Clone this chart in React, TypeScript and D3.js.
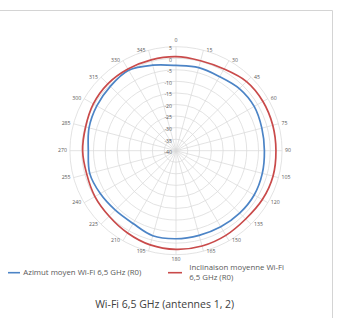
import React from 'react'
import * as d3 from 'd3'

const angles = [0, 15, 30, 45, 60, 75, 90, 105, 120, 135, 150, 165, 180, 195, 210, 225, 240, 255, 270, 285, 300, 315, 330, 345]
const azimut = [-3.1, -2.8, -3.0, -2.0, -1.7, -2.3, -2.5, -2.1, -1.7, -1.8, -2.0, -2.1, -1.9, -1.9, -3.6, -3.6, -2.9, -2.1, -2.8, -1.8, -1.2, -0.6, 0.2, -1.7]
const inclinaison = [0.7, 0.3, 0.8, 2.3, 2.6, 2.5, 2.4, 2.6, 2.3, 1.8, 2.3, 2.7, 2.7, 2.2, 1.1, 0.1, -0.3, -0.8, -0.4, -0.3, 0.5, 0.9, 0.8, 0.7]
const ringTicks = [5, 0, -5, -10, -15, -20, -25, -30, -35, -40]
const seriesNames = ['Azimut moyen Wi-Fi 6,5 GHz (R0)', 'Inclinaison moyenne Wi-Fi|6,5 GHz (R0)']
const seriesColours = ['#4c84c6', '#c94a4a']
const title = 'Wi-Fi 6,5 GHz (antennes 1, 2)'

const W = 339
const H = 318
const cx = 176
const cy = 150.7
const R = 104
const kx = 1.02 // picture is a touch wider than tall

export default function App() {
  const rScale = d3.scaleLinear().domain([-40, 5]).range([0, R])
  const aScale = d3.scaleLinear().domain([0, 360]).range([0, 2 * Math.PI])

  const px = (deg: number, r: number) => cx + Math.sin(aScale(deg)) * r * kx
  const py = (deg: number, r: number) => cy - Math.cos(aScale(deg)) * r

  const line = d3.line<number>()
    .x((d, i) => px(angles[i], rScale(d)))
    .y((d, i) => py(angles[i], rScale(d)))
    .curve(d3.curveCatmullRomClosed.alpha(0.5))

  const series = [azimut, inclinaison]
  const grid = '#d9d9d9'
  const font = "'Open Sans', 'DejaVu Sans', sans-serif"

  return (
    <svg width={W} height={H} style={{ position: 'absolute', left: 0, top: 0, background: '#fff' }} fontFamily={font}>
      <line x1={0} y1={10.5} x2={332.5} y2={10.5} stroke="#d4d4d4" />
      <line x1={332.5} y1={10.5} x2={332.5} y2={H} stroke="#d4d4d4" />

      {/* rings */}
      {ringTicks.filter(t => t > -40).map(t => (
        <ellipse key={t} cx={cx} cy={cy} rx={rScale(t) * kx} ry={rScale(t)} fill="none" stroke={grid} strokeWidth={0.75} />
      ))}
      {/* spokes */}
      {angles.map(a => (
        <line key={a} x1={cx} y1={cy} x2={px(a, R)} y2={py(a, R)} stroke={grid} strokeWidth={0.75} />
      ))}

      {/* ring labels */}
      {ringTicks.map(t => (
        <text key={t} x={cx - 4} y={cy - rScale(t) + 2} fontSize={5.2} fill="#595959" textAnchor="end" dominantBaseline="middle">{t}</text>
      ))}

      {/* angle labels */}
      {angles.map(a => {
        const s = Math.sin(aScale(a))
        const c = Math.cos(aScale(a))
        const anchor = Math.abs(s) < 0.01 ? 'middle' : s > 0 ? 'start' : 'end'
        const x = px(a, R) + (Math.abs(s) < 0.01 ? 0 : s > 0 ? 3 : -3)
        const y = py(a, R) + (Math.abs(s) < 0.01 ? (c > 0 ? -6 : 5) : 0)
        return (
          <text key={a} x={x} y={y} fontSize={5.2} fill="#595959" textAnchor={anchor} dominantBaseline="middle">{a}</text>
        )
      })}

      {/* series */}
      {series.map((s, i) => (
        <path key={i} d={line(s) || ''} fill="none" stroke={seriesColours[i]} strokeWidth={1.7} strokeLinejoin="round" />
      ))}

      {/* legend */}
      <line x1={8} y1={272.7} x2={20} y2={272.7} stroke={seriesColours[0]} strokeWidth={1.6} />
      <text x={23.3} y={272.7} fontSize={7.8} fill="#595959" dominantBaseline="middle">{seriesNames[0]}</text>
      <line x1={168} y1={272.7} x2={182} y2={272.7} stroke={seriesColours[1]} strokeWidth={1.6} />
      <text x={189.3} y={267.7} fontSize={7.8} fill="#595959" dominantBaseline="middle">
        {seriesNames[1].split('|').map((l, j) => (
          <tspan key={j} x={189.3} dy={j === 0 ? 0 : 10.6}>{l}</tspan>
        ))}
      </text>

      <text x={164.7} y={305} fontSize={10.5} fill="#404040" textAnchor="middle" dominantBaseline="middle">{title}</text>
    </svg>
  )
}
